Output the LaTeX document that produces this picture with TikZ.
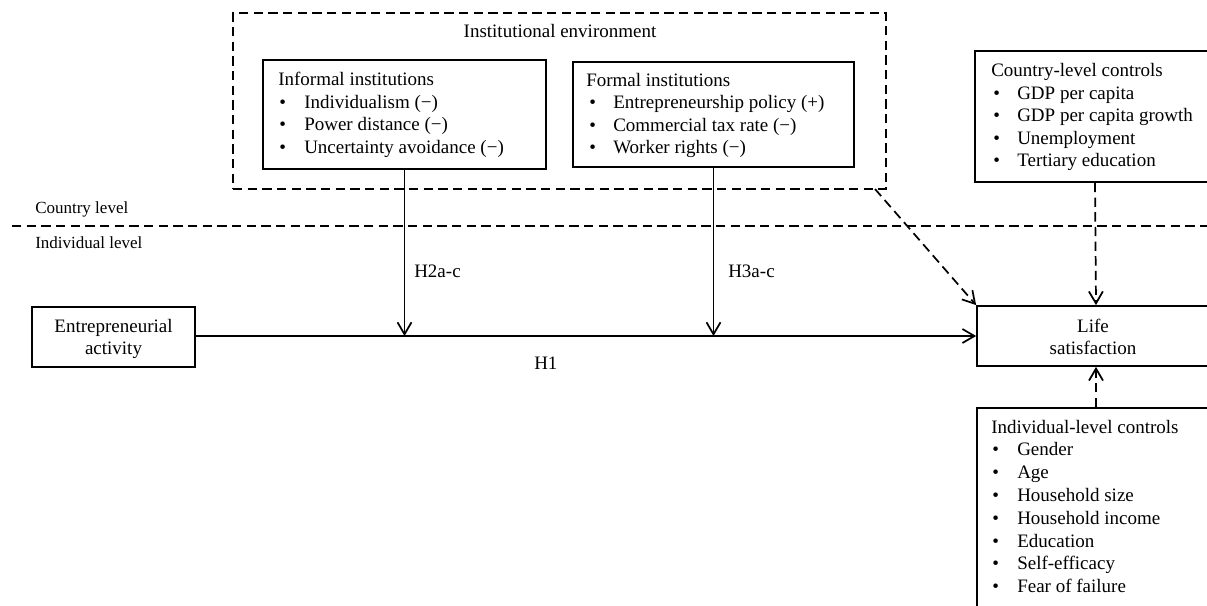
\documentclass[tikz,border=0pt]{standalone}
\usepackage{fontspec}
\setmainfont{Liberation Serif}
\usetikzlibrary{arrows.meta,fit}
\newcommand\boxfs{\fontsize{14.25}{17}\selectfont}
\newcommand\lvfs{\fontsize{12.75}{15}\selectfont}
\begin{document}
\begin{tikzpicture}[x=0.75pt,y=-0.75pt,
  box/.style={draw,line width=1.3pt,inner sep=0pt},
  dbox/.style={draw,line width=1.3pt,inner sep=0pt,dash pattern=on 7pt off 4pt},
  txt/.style={anchor=base west,inner sep=0pt,font=\boxfs},
  ctxt/.style={anchor=base,inner sep=0pt,font=\boxfs},
  lvl/.style={anchor=base west,inner sep=0pt,font=\lvfs},
  arr/.style={line width=1.3pt,-{Straight Barb[length=9pt,width=10.5pt,line width=1.3pt]}},
  darr/.style={arr,dash pattern=on 7pt off 4pt},
  dline/.style={line width=1.3pt,dash pattern=on 7pt off 4pt}]
\path[use as bounding box,clip] (0,0) rectangle (1207,606);

% boxes
\node[dbox,fit={(233,13) (886,189)}] (env) {};
\node[box,fit={(263,60) (546,169)}] (inf) {};
\node[box,fit={(573,62) (854,167)}] (frm) {};
\node[box,fit={(975,51) (1215,182)}] (cc) {};
\node[box,fit={(32,307) (195,367)}] (ent) {};
\node[box,fit={(977,306) (1215,366)}] (life) {};
\node[box,fit={(977,408) (1215,630)}] (ic) {};

% level separator
\coordinate (lvL) at (12,226);
\coordinate (lvR) at (1215,226);
\draw[dline] (lvL) -- (lvR);
\node[lvl] (cl) at (35,214) {Country level};
\node[lvl] (il) at (35,248) {Individual level};

% texts
\node[ctxt] (envt) at (560,38) {Institutional environment};

\node[txt] (infh) at (278,86) {Informal institutions};
\node[txt] (inf1b) at (279,108.5) {•};
\node[txt] (inf1) at (304,108.5) {Individualism (−)};
\node[txt] (inf2b) at (279,131) {•};
\node[txt] (inf2) at (304,131) {Power distance (−)};
\node[txt] (inf3b) at (279,154) {•};
\node[txt] (inf3) at (304,154) {Uncertainty avoidance (−)};

\node[txt] (frmh) at (586,87) {Formal institutions};
\node[txt] (frm1b) at (589,109) {•};
\node[txt] (frm1) at (613,109) {Entrepreneurship policy (+)};
\node[txt] (frm2b) at (589,131.5) {•};
\node[txt] (frm2) at (613,131.5) {Commercial tax rate (−)};
\node[txt] (frm3b) at (589,154) {•};
\node[txt] (frm3) at (613,154) {Worker rights (−)};

\node[txt] (cch) at (991,77) {Country-level controls};
\node[txt] (cc1b) at (993,99.5) {•};
\node[txt] (cc1) at (1017,99.5) {GDP per capita};
\node[txt] (cc2b) at (993,122) {•};
\node[txt] (cc2) at (1017,122) {GDP per capita growth};
\node[txt] (cc3b) at (993,144.5) {•};
\node[txt] (cc3) at (1017,144.5) {Unemployment};
\node[txt] (cc4b) at (993,167) {•};
\node[txt] (cc4) at (1017,167) {Tertiary education};

\node[txt] (ich) at (991,433) {Individual-level controls};
\node[txt] (ic1b) at (992,455.8) {•};
\node[txt] (ic1) at (1017,455.8) {Gender};
\node[txt] (ic2b) at (992,478.6) {•};
\node[txt] (ic2) at (1017,478.6) {Age};
\node[txt] (ic3b) at (992,501.4) {•};
\node[txt] (ic3) at (1017,501.4) {Household size};
\node[txt] (ic4b) at (992,524.2) {•};
\node[txt] (ic4) at (1017,524.2) {Household income};
\node[txt] (ic5b) at (992,547) {•};
\node[txt] (ic5) at (1017,547) {Education};
\node[txt] (ic6b) at (992,569.8) {•};
\node[txt] (ic6) at (1017,569.8) {Self-efficacy};
\node[txt] (ic7b) at (992,592.6) {•};
\node[txt] (ic7) at (1017,592.6) {Fear of failure};

\node[ctxt] (ent1) at (113.5,332) {Entrepreneurial};
\node[ctxt] (ent2) at (113.5,354) {activity};
\node[ctxt] (life1) at (1093,332) {Life};
\node[ctxt] (life2) at (1093,354) {satisfaction};

\node[txt] (h2) at (414,277) {H2a-c};
\node[txt] (h3) at (728,277) {H3a-c};
\node[txt] (h1) at (534,369) {H1};

% connectors
\coordinate (m1) at (404.5,336);
\coordinate (m2) at (713.5,336);
\coordinate (envout) at (875,189);
\draw[arr] (ent.east |- 0,336) -- (life.west |- 0,336);
\draw[arr] (inf.south) -- (m1);
\draw[arr] (frm.south) -- (m2);
\draw[darr] (envout) -- (life.north west);
\draw[darr] (cc.south) -- (life.north);
\draw[darr] (ic.north) -- (life.south);
\end{tikzpicture}
\end{document}
